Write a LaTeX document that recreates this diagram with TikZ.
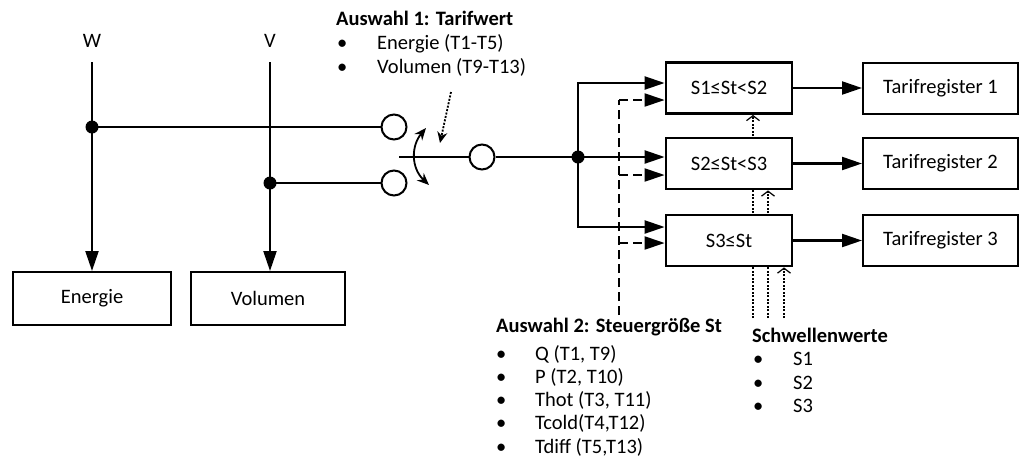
\documentclass[tikz,border=0pt]{standalone}
\usepackage{fontspec}
\setmainfont{Carlito}
\usetikzlibrary{arrows.meta,calc}
\pgfdeclarelayer{bg}
\pgfsetlayers{bg,main}
\begin{document}
\begin{tikzpicture}[x=1pt,y=-1pt,
  font=\fontsize{20.5}{24}\selectfont,
  ln/.style={line width=2.2pt},
  arr/.style={line width=2.2pt,-{Triangle[length=20pt,width=13pt]}},
  dashln/.style={line width=2pt,dash pattern=on 9pt off 5pt},
  dasharr/.style={dashln,-{Triangle[length=20pt,width=13pt]}},
  thr/.style={line width=2pt,dash pattern=on 2pt off 1.5pt,-{Straight Barb[length=5pt,width=13pt,line width=1.2pt]}},
  box/.style={draw,line width=2pt,fill=white,inner sep=0pt,minimum height=51pt},
  sbox/.style={box,line width=2.8pt,minimum width=126pt},
  tbox/.style={box,minimum width=155pt},
  dot/.style={circle,fill,inner sep=0pt,minimum size=13pt},
  port/.style={circle,draw,line width=2pt,fill=white,inner sep=0pt,minimum size=25pt},
  txt/.style={anchor=base west,inner sep=0pt},
  head/.style={txt,font=\fontsize{20.5}{24}\selectfont\bfseries}]
\useasboundingbox (0,0) rectangle (1020,459);

% bottom boxes
\node[box,minimum width=158pt,minimum height=53pt] (en) at (92,298.5) {Energie};
\node[box,minimum width=154pt,minimum height=53pt] (vol) at (268,298.5) {Volumen};

% inputs
\node[txt,anchor=base] (wl) at (92,47) {W};
\node[txt,anchor=base] (vl) at (270,47) {V};
\coordinate (wt) at (92,62);
\coordinate (vt) at (270,62);
\node[dot] (wd) at (92,127) {};
\node[dot] (vd) at (270,183) {};
\node[port] (c1) at (394,127) {};
\node[port] (c2) at (394,183) {};
\node[port] (c3) at (482,157) {};
\node[dot] (j) at (578,157) {};

\draw[arr] (wt) -- (en.north -| wt);
\draw[arr] (vt) -- (vol.north -| vt);
\draw[ln] (wd.center) -- (c1);
\draw[ln] (vd.center) -- (c2);

% switch
\coordinate (sw) at (399,157);
\draw[line width=2.8pt] (sw) -- (c3);
\draw[line width=2.8pt] (c3) -- (j.center);
\coordinate (ca) at (426,128);
\coordinate (cb) at (429,185);
\draw[line width=1.8pt,{Stealth[length=12pt,width=10pt]}-{Stealth[length=12pt,width=10pt]}] (ca) .. controls (411,146) and (411,168) .. (cb);
\coordinate (da) at (451,92);
\coordinate (db) at (440,143);
\draw[line width=1.8pt,dash pattern=on 2pt off 1.5pt,-{Stealth[length=11pt,width=10pt]}] (da) -- (db);

% range boxes
\node[sbox] (s1) at (729,88) {S1≤St<S2};
\node[sbox] (s2) at (729,163.5) {S2≤St<S3};
\node[sbox] (s3) at (729,240.5) {S3≤St};
\node[tbox] (t1) at (940.5,88) {Tarifregister 1};
\node[tbox] (t2) at (940.5,163.5) {Tarifregister 2};
\node[tbox] (t3) at (940.5,240.5) {Tarifregister 3};

\draw[arr] (j.center) |- ([yshift=5pt]s1.west);
\draw[arr] (j.center) -- (j -| s2.west);
\draw[arr] (j.center) |- ([yshift=13.5pt]s3.west);
\draw[arr] (s1) -- (t1);
\draw[arr] (s2) -- (t2);
\draw[arr] (s3) -- (t3);

% control variable (dashed)
\coordinate (dv) at (619,315);
\coordinate (d1) at (619,100);
\coordinate (d2) at (619,175);
\coordinate (d3) at (619,243);
\draw[dashln] (dv) -- (d1);
\draw[dasharr] (d1) -- (d1 -| s1.west);
\draw[dasharr] (d2) -- (d2 -| s2.west);
\draw[dasharr] (d3) -- (d3 -| s3.west);

% thresholds (dotted)
\coordinate (h1) at (753,318);
\coordinate (h2) at (768,318);
\coordinate (h3) at (784,318);
\begin{pgfonlayer}{bg}
\draw[thr] (h1) -- (h1 |- s1.south);
\draw[thr] (h2) -- (h2 |- s2.south);
\draw[thr] (h3) -- (h3 |- s3.south);
\end{pgfonlayer}

% texts
\node[head] (a1) at (336,25) {Auswahl 1: Tarifwert};
\node[txt] (a1i1) at (337,49) {\makebox[40pt][l]{•}Energie (T1-T5)};
\node[txt] (a1i2) at (337,73) {\makebox[40pt][l]{•}Volumen (T9-T13)};

\node[head] (a2) at (496,332) {Auswahl 2: Steuergröße St};
\node[txt] (a2i1) at (496,360) {\makebox[39pt][l]{•}Q (T1, T9)};
\node[txt] (a2i2) at (496,383) {\makebox[39pt][l]{•}P (T2, T10)};
\node[txt] (a2i3) at (496,406) {\makebox[39pt][l]{•}Thot (T3, T11)};
\node[txt] (a2i4) at (496,429) {\makebox[39pt][l]{•}Tcold(T4,T12)};
\node[txt] (a2i5) at (496,453) {\makebox[39pt][l]{•}Tdiff (T5,T13)};

\node[head] (sw0) at (752,342) {Schwellenwerte};
\node[txt] (swi1) at (753,365) {\makebox[40pt][l]{•}S1};
\node[txt] (swi2) at (753,389) {\makebox[40pt][l]{•}S2};
\node[txt] (swi3) at (753,412) {\makebox[40pt][l]{•}S3};
\end{tikzpicture}
\end{document}
